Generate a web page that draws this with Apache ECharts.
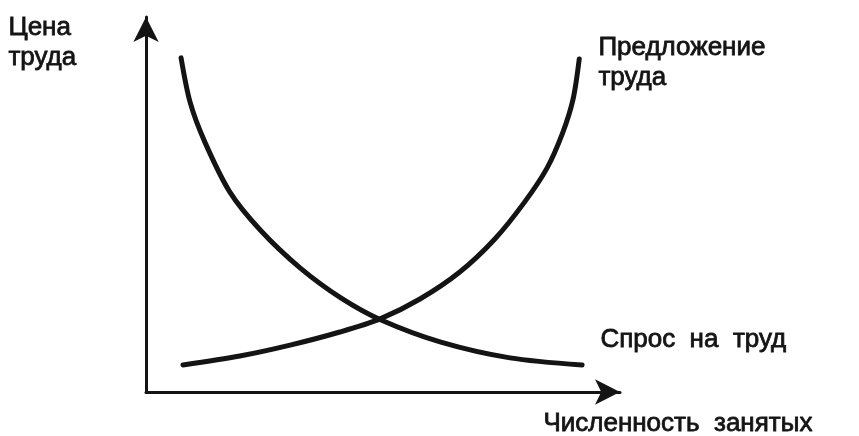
<!DOCTYPE html>
<html>
<head>
<meta charset="utf-8">
<title>Рынок труда</title>
<script src="https://cdn.jsdelivr.net/npm/echarts@6/dist/echarts.min.js"></script>
<style>
    html, body { margin: 0; padding: 0; background: #fff; }
    #chart { width: 859px; height: 436px; }
</style>
</head>
<body>
<div id="chart"></div>
<script>
// кривая спроса на труд (x - численность занятых, y - цена труда)
var demandData = [
    [7.4, 89.1], [9.3, 77.3], [12.4, 66.7], [17.7, 53.3], [24.1, 43.2], [32.5, 33.1],
    [41.1, 25.1], [49.6, 19.2], [62.2, 13.3], [76.8, 9.1], [92.0, 7.2]
];
// кривая предложения труда
var supplyData = [
    [7.8, 7.2], [19.8, 9.6], [30.4, 12.5], [40.9, 16.0], [49.4, 19.5], [57.8, 24.8],
    [66.2, 32.0], [73.6, 40.8], [79.9, 50.7], [84.6, 59.7], [87.9, 69.1], [90.1, 78.1], [91.4, 88.8]
];
var yAxisTitle = 'Цена\nтруда';
var xAxisTitle = 'Численность  занятых';
var supplyTitle = 'Предложение\nтруда';
var demandTitle = 'Спрос  на  труд';

var myChart = echarts.init(document.getElementById('chart'));
var ink = '#141414';
var font = '26px "Liberation Sans", Arial, sans-serif';

// общий стиль осей со стрелками
function axis() {
    return {
        type: 'value',
        min: 0,
        max: 100,
        axisLine: {
            show: true,
            symbol: ['none', 'arrow'],
            symbolSize: [19, 25],
            lineStyle: { color: ink, width: 3 }
        },
        axisTick: { show: false },
        axisLabel: { show: false },
        splitLine: { show: false }
    };
}

// подпись на графике
function label(text, left, top) {
    return {
        type: 'text', left: left, top: top,
        style: { text: text, font: font, fill: ink, stroke: ink, lineWidth: 0.8, lineHeight: 30 }
    };
}

var option = {
    animation: false,
    backgroundColor: '#fff',
    grid: { left: 146, right: 239, top: 17, bottom: 44 },
    xAxis: axis(),
    yAxis: axis(),
    series: [
        {
            name: 'Спрос на труд',
            type: 'line',
            smooth: 0.3,
            showSymbol: false,
            data: demandData,
            lineStyle: { color: ink, width: 5, cap: 'round' }
        },
        {
            name: 'Предложение труда',
            type: 'line',
            smooth: 0.3,
            showSymbol: false,
            data: supplyData,
            lineStyle: { color: ink, width: 5, cap: 'round' }
        }
    ],
    graphic: [
        label(yAxisTitle, 8, 13),
        label(supplyTitle, 598, 33),
        label(demandTitle, 600, 325),
        label(xAxisTitle, 543, 409)
    ]
};
myChart.setOption(option);
window.addEventListener('resize', function () {
    myChart.resize();
});
</script>
</body>
</html>
